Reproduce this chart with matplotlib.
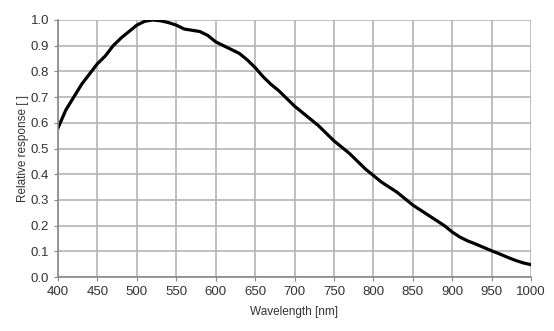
import matplotlib
matplotlib.use("Agg")
import matplotlib.pyplot as plt

# Veriler
wavelength = [400, 410, 420, 430, 440, 450, 460, 470, 480, 490, 500, 510, 520, 530, 540,
              550, 560, 570, 580, 590, 600, 610, 620, 630, 640, 650, 660, 670, 680, 690,
              700, 710, 720, 730, 740, 750, 760, 770, 780, 790, 800, 810, 820, 830, 840,
              850, 860, 870, 880, 890, 900, 910, 920, 930, 940, 950, 960, 970, 980, 990, 1000]
response = [0.58, 0.65, 0.70, 0.75, 0.79, 0.83, 0.86, 0.90, 0.93, 0.955, 0.98, 0.995, 1.0, 0.997, 0.99,
            0.98, 0.965, 0.96, 0.955, 0.94, 0.915, 0.90, 0.885, 0.87, 0.845, 0.815, 0.78, 0.75, 0.725, 0.695,
            0.665, 0.64, 0.615, 0.59, 0.56, 0.53, 0.505, 0.48, 0.45, 0.42, 0.395, 0.37, 0.35, 0.33, 0.305,
            0.28, 0.26, 0.24, 0.22, 0.20, 0.175, 0.155, 0.14, 0.128, 0.115, 0.102, 0.09, 0.077, 0.065, 0.055, 0.048]

x_ticks = list(range(400, 1001, 50))
y_ticks = [i / 10 for i in range(11)]

plt.rcParams["font.family"] = ["Liberation Sans", "DejaVu Sans"]

fig = plt.figure(figsize=(5.54, 3.31), dpi=100)
ax = fig.add_axes([58 / 554, 1 - 277 / 331, 473 / 554, 257 / 331])

ax.plot(wavelength, response, color="black", linewidth=2.3)
ax.set_xlim(400, 1000)
ax.set_ylim(0, 1.0)
ax.set_xticks(x_ticks)
ax.set_yticks(y_ticks)
ax.set_yticklabels([f"{v:.1f}" for v in y_ticks])
ax.grid(True, color="#b4b4b4", linewidth=1.2)
ax.set_axisbelow(True)

for side in ["top", "right"]:
    ax.spines[side].set_visible(False)
for side in ["left", "bottom"]:
    ax.spines[side].set_color("#888888")
    ax.spines[side].set_linewidth(1.2)

ax.tick_params(axis="both", labelsize=9.5, length=3, color="#888888", labelcolor="#333333")
ax.set_xlabel("Wavelength [nm]", fontsize=8.5, color="#333333", labelpad=6)
ax.set_ylabel("Relative response [ ]", fontsize=8.5, color="#333333", labelpad=1)

fig.savefig("out.png", dpi=100)
plt.close(fig)
